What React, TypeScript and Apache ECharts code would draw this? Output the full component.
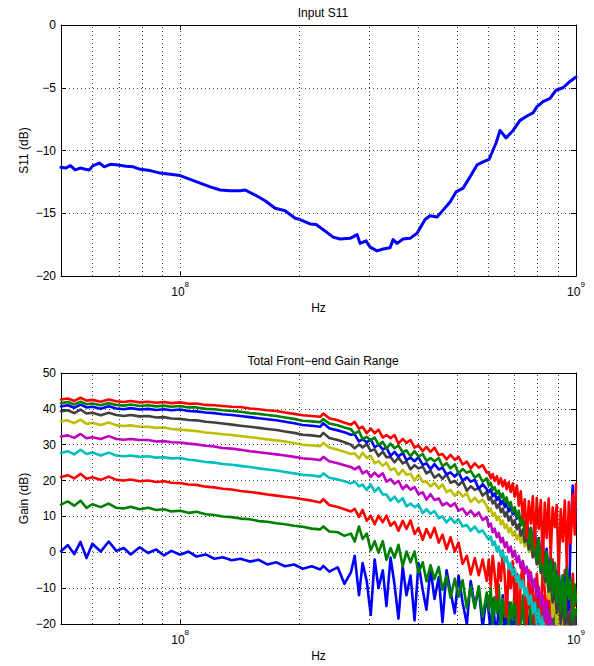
import React, { useEffect, useRef } from 'react';
import * as echarts from 'echarts';

const FONT = '"Liberation Sans", Arial, Helvetica, sans-serif';

// ---------- Input S11 (frequency in MHz, value in dB) ----------
const s11FreqMHz = [
  50, 51.5, 52.8, 54.3, 55.9, 57.6, 58.9, 60.3, 62.5, 64.3,
  66.6, 69.7, 73.0, 76.1, 79.3, 84.0, 89.0, 94.4, 100, 106,
  112.3, 119.1, 126.2, 133.8, 141.8, 145.9, 154.7, 163.9, 173.8, 184.1,
  195.2, 200.9, 212.9, 220.5, 229.6, 243.4, 253.5, 268.7, 279.9, 284.8,
  294.9, 301.8, 314.4, 325.6, 339.1, 345.1, 353.2, 365.7, 380.9, 396.7,
  415.6, 427.9, 445.7, 461.5, 480.7, 497.7, 518.4, 540.0, 562.3, 582.4,
  603.0, 628.1, 642.8, 665.7, 693.4, 722.2, 752.1, 778.8, 797.2, 825.5,
  859.8, 890.3, 927.3, 965.6, 1000,
];
const s11Db = [
  -11.34, -11.4, -11.2, -11.55, -11.4, -11.5, -11.55, -11.2, -11.0, -11.3,
  -11.1, -11.15, -11.25, -11.3, -11.5, -11.6, -11.8, -11.9, -12.0, -12.3,
  -12.6, -12.9, -13.15, -13.2, -13.2, -13.15, -13.55, -14.0, -14.6, -14.8,
  -15.4, -15.5, -15.85, -15.9, -16.3, -16.9, -17.05, -17.0, -16.7, -17.4,
  -17.2, -17.7, -18.0, -17.85, -17.75, -17.1, -17.4, -17.05, -17.0, -16.6,
  -15.5, -15.2, -15.3, -14.75, -14.1, -13.3, -13.0, -12.1, -11.15, -10.9,
  -10.7, -9.4, -8.4, -9.0, -8.4, -7.6, -7.25, -7.0, -6.5, -6.1,
  -5.85, -5.2, -5.0, -4.5, -4.15,
];

// ---------- Total Front-end Gain Range (frequency in MHz, gain in dB) ----------
const gainFreqMHz = [
  50, 52, 54, 56, 58, 60, 63, 66, 69, 72,
  75, 79, 83, 87, 91, 95, 100, 105, 110, 116,
  122, 128, 135, 142, 150, 158, 166, 175, 184, 194,
  204, 215, 226, 230, 238, 250, 260, 270,
  276, 283, 289, 296, 303, 310, 317, 325, 332, 340,
  348, 356, 365, 373, 382, 391, 400, 410, 419, 429,
  439, 450, 460, 471, 482, 494, 505, 517, 530, 542,
  555, 568, 581, 595,
  602, 609, 616, 623, 631, 638, 646, 653, 661, 668,
  676, 684, 692, 700, 709, 717, 725, 734, 742, 751,
  760, 769, 778, 787, 796, 805, 815, 824, 834, 843,
  853, 863, 873, 884, 894, 904, 915, 926, 937, 948,
  959, 970, 981, 993, 1000,
];

const gain1 = [
  0.3, 2.0, -0.5, 2.9, -1.6, 2.4, 0.2, 3.0, 0.4, 1.2,
  -0.6, 1.4, -0.2, 0.8, -0.9, 0.4, -0.7, 0.2, -1.2, -0.6,
  -1.8, -1.4, -2.2, -1.8, -2.6, -2.1, -3.4, -2.8, -3.9, -3.4,
  -4.6, -3.9, -4.8, -3.8, -5.4, -4.2, -8.8, -5.6,
  -1.0, -12.0, -3.0, -8.0, -17.5, -2.0, -10.0, -5.0, -15.0, -1.5,
  -9.0, -18.5, -4.0, -12.0, -6.5, -19.0, -3.0, -10.5, -16.0, -4.5,
  -13.0, -7.0, -19.5, -5.0, -11.0, -17.0, -6.5, -14.0, -20.0, -8.0,
  -15.0, -10.0, -21.0, -12.0,
  -17.0, -22.0, -13.0, -19.0, -22.0, -15.0, -20.0, -12.0, -22.0, -18.0,
  -14.0, -22.0, -16.0, -21.0, -13.0, -22.0, -19.0, -15.0, -22.0, -17.0,
  -22.0, -14.0, -20.0, -22.0, -16.0, -22.0, -18.0, -13.0, -22.0, -20.0,
  -15.0, -22.0, -17.0, -22.0, -12.0, -20.0, -22.0, -16.0, -22.0, -19.0,
  -14.0, -22.0, -18.0, -22.0, -20.0,
];
const gain2 = [
  13.3, 14.2, 13.0, 14.4, 12.4, 13.4, 12.6, 13.6, 12.4, 12.2,
  12.7, 12.0, 12.4, 11.8, 12.0, 11.4, 11.6, 11.0, 11.3, 10.6,
  10.4, 10.0, 9.8, 9.4, 9.2, 8.7, 8.5, 8.1, 7.8, 7.4,
  7.1, 6.6, 6.4, 7.2, 5.8, 5.6, 4.6, 5.2,
  3.0, 7.2, 3.7, 5.2, 0.6, 3.1, -0.1, 3.1, -2.1, 1.2,
  -1.5, 2.1, -3.9, 0.2, -2.8, 0.2, -5.8, -2.8, -8.1, -3.6,
  -7.5, -4.1, -10.5, -6.6, -12.7, -7.4, -12.4, -7.8, -15.6, -9.5,
  -15.6, -9.5, -18.0, -11.2,
  -16.0, -10.0, -20.0, -12.5, -17.0, -9.0, -22.0, -13.0, -18.0, -11.0,
  -22.0, -14.0, -19.0, -10.0, -22.0, -15.0, -20.0, -12.0, -22.0, -16.0,
  -11.0, -21.0, -14.0, -22.0, -12.0, -18.0, -22.0, -13.0, -20.0, -15.0,
  -22.0, -11.0, -19.0, -22.0, -14.0, -20.0, -9.0, -17.0, -22.0, -12.0,
  -19.0, -22.0, -13.0, -20.0, -16.0,
];
const gain3 = [
  21.0, 21.5, 20.6, 21.9, 20.5, 20.9, 20.2, 21.1, 20.2, 20.0,
  20.3, 19.8, 20.0, 19.6, 19.8, 19.4, 19.3, 18.9, 18.8, 18.3,
  18.1, 17.7, 17.5, 17.1, 16.8, 16.5, 16.1, 15.8, 15.5, 15.2,
  14.8, 14.4, 13.9, 14.8, 13.2, 12.6, 12.0, 11.4,
  12.1, 9.9, 11.8, 8.8, 10.2, 7.8, 10.2, 8.4, 10.2, 7.4,
  8.5, 6.0, 8.8, 6.5, 8.9, 5.1, 6.8, 3.5, 6.5, 4.1,
  6.8, 2.7, 4.9, 0.9, 4.2, 0.2, 2.7, -3.2, -1.0, -6.2,
  -1.6, -6.4, -2.0, -8.0,
  -2.0, -9.5, -1.0, -6.0, -13.0, -3.0, -8.0, 0.5, -7.0, -18.0,
  -4.0, -10.0, -2.5, -14.0, -6.0, -22.0, -8.0, -3.0, -12.0, -20.0,
  -5.0, -15.0, -9.0, -22.0, -6.0, -13.0, -19.0, -4.0, -11.0, -22.0,
  -8.0, -16.0, -2.0, -12.0, -21.0, -7.0, -14.0, -22.0, -5.0, -17.0,
  -10.0, -22.0, -6.0, -15.0, -11.0,
];
const gain4 = [
  27.7, 28.2, 27.3, 28.6, 27.4, 27.8, 27.0, 27.8, 27.0, 26.8,
  27.0, 26.6, 26.8, 26.4, 26.5, 26.2, 26.3, 25.8, 25.6, 25.2,
  25.0, 24.6, 24.4, 24.1, 23.8, 23.4, 23.1, 22.8, 22.4, 22.0,
  21.6, 21.4, 21.1, 22.0, 20.8, 20.3, 19.8, 19.2,
  19.7, 18.4, 18.9, 17.4, 18.9, 16.9, 18.0, 16.1, 16.1, 14.4,
  15.5, 14.0, 15.1, 12.8, 13.6, 12.6, 13.3, 10.9, 12.0, 10.8,
  11.5, 9.5, 10.0, 8.3, 9.6, 8.2, 9.2, 7.2, 7.6, 6.0,
  7.2, 5.6, 6.1, 4.3,
  3.6, 4.4, 2.0, 3.0, 0.4, 1.6, -1.2, 0.2, -2.8, -1.2,
  -4.6, -3.0, -6.4, -4.6, -8.2, -6.4, -10.0, -8.0, -12.0, -10.0,
  -14.5, -12.0, -17.0, -14.0, -20.0, -16.0, -22.0, -18.0, -22.0, -22.0,
  -19.0, -22.0, -22.0, -22.0, -22.0, -22.0, -22.0, -22.0, -22.0, -22.0,
  -22.0, -22.0, -22.0, -22.0, -22.0,
];
const gain5 = [
  32.3, 32.6, 31.9, 33.0, 31.8, 32.1, 31.6, 32.4, 31.6, 31.4,
  31.6, 31.3, 31.3, 30.9, 31.0, 30.7, 30.6, 30.3, 30.1, 29.7,
  29.5, 29.1, 28.9, 28.6, 28.2, 27.9, 27.6, 27.3, 27.0, 26.6,
  26.2, 26.0, 25.7, 26.6, 25.4, 24.8, 24.3, 23.8,
  23.1, 23.9, 22.0, 22.7, 21.0, 22.2, 21.1, 22.0, 19.7, 20.4,
  19.1, 19.9, 17.6, 18.7, 17.5, 18.2, 16.2, 16.7, 14.7, 16.2,
  14.6, 15.0, 13.1, 13.8, 12.8, 13.7, 11.6, 12.2, 10.5, 11.6,
  10.1, 11.1, 9.0, 9.8,
  7.2, 8.0, 5.6, 6.6, 4.2, 5.4, 2.8, 4.0, 1.4, 2.8,
  0.0, 1.6, -1.4, 0.4, -2.8, -1.0, -4.4, -2.4, -6.0, -4.0,
  -8.0, -5.6, -10.0, -7.4, -12.5, -9.6, -15.0, -12.0, -19.0, -14.0,
  -22.0, -17.0, -22.0, -22.0, -19.0, -22.0, -22.0, -22.0, -22.0, -22.0,
  -16.0, -22.0, -22.0, -22.0, -22.0,
];
const gain6 = [
  36.5, 36.8, 36.0, 37.0, 35.8, 36.1, 35.5, 36.2, 35.4, 35.2,
  35.4, 35.0, 35.0, 34.7, 34.8, 34.4, 34.2, 34.0, 33.8, 33.4,
  33.2, 32.9, 32.7, 32.4, 32.1, 31.8, 31.5, 31.2, 30.9, 30.5,
  30.0, 29.8, 29.6, 30.5, 29.2, 28.6, 28.0, 27.4,
  27.6, 26.2, 27.8, 26.3, 26.9, 24.8, 25.4, 24.1, 25.0, 22.9,
  23.4, 21.6, 23.0, 21.6, 21.9, 20.0, 21.6, 19.6, 19.7, 18.4,
  19.4, 17.8, 18.9, 16.8, 17.4, 15.7, 16.9, 15.6, 16.4, 14.0,
  15.2, 13.9, 14.7, 12.9,
  11.4, 12.2, 10.2, 11.0, 9.0, 10.0, 7.8, 8.8, 6.8, 7.8,
  5.6, 6.8, 4.6, 5.8, 3.6, 5.0, 2.6, 4.2, 1.6, 3.2,
  0.2, 2.0, -1.4, 0.6, -3.0, -1.0, -5.4, -3.0, -8.6, -6.0,
  -13.0, -9.0, -18.0, -12.0, -22.0, -15.0, -22.0, -17.0, -22.0, -19.0,
  -22.0, -22.0, -18.0, -22.0, -22.0,
];
const gain7 = [
  39.3, 39.6, 38.8, 39.8, 38.7, 38.9, 38.2, 38.9, 38.3, 38.0,
  38.3, 37.9, 38.0, 37.6, 37.7, 37.3, 37.2, 36.9, 36.8, 36.4,
  36.2, 35.9, 35.6, 35.3, 35.0, 34.7, 34.4, 34.1, 33.7, 33.3,
  32.8, 32.6, 32.3, 33.3, 31.9, 31.3, 30.7, 30.0,
  29.0, 30.1, 29.2, 30.2, 28.3, 28.7, 26.8, 28.1, 26.5, 26.6,
  25.1, 26.4, 24.8, 25.3, 23.1, 24.3, 23.4, 23.9, 22.0, 22.7,
  20.8, 21.7, 20.5, 21.7, 19.4, 19.9, 18.7, 19.8, 17.2, 18.4,
  17.4, 17.9, 15.8, 16.9,
  14.6, 15.4, 13.6, 14.4, 12.4, 13.4, 11.2, 12.2, 10.0, 11.2,
  8.8, 10.0, 7.6, 9.0, 6.4, 7.8, 4.6, 6.4, 2.8, 4.8,
  0.8, 3.0, -1.4, 1.2, -3.4, -0.8, -5.8, -2.6, -8.4, -5.0,
  -11.0, -7.4, -14.0, -9.6, -17.0, -11.5, -20.0, -13.0, -21.0, -15.5,
  -22.0, -17.0, -22.0, -18.0, -22.0,
];
const gain8 = [
  40.7, 41.0, 40.3, 41.2, 40.4, 40.6, 40.0, 40.7, 40.1, 39.9,
  40.2, 39.8, 40.0, 39.7, 39.9, 39.6, 39.8, 39.4, 39.3, 39.0,
  38.8, 38.5, 38.3, 38.0, 37.7, 37.4, 37.1, 36.8, 36.4, 36.0,
  35.5, 35.3, 35.0, 36.0, 34.6, 34.0, 33.5, 32.8,
  32.9, 30.9, 31.6, 30.6, 31.5, 29.3, 30.0, 28.7, 29.2, 26.9,
  28.0, 26.7, 27.7, 25.7, 26.4, 25.4, 26.5, 24.4, 24.8, 23.2,
  24.6, 23.1, 23.6, 21.7, 22.3, 21.1, 22.3, 20.0, 20.9, 19.7,
  20.2, 17.7, 19.0, 17.6,
  16.8, 17.6, 15.6, 16.4, 14.6, 15.5, 13.4, 14.4, 12.6, 13.8,
  11.4, 12.6, 10.6, 11.8, 9.4, 10.8, 7.8, 9.6, 6.2, 8.2,
  4.4, 6.8, 2.6, 5.4, 0.8, 4.0, -1.6, 2.6, -4.2, 1.0,
  -6.0, -1.4, -12.0, -3.0, -8.5, -5.0, -14.0, -6.5, -10.0, -4.5,
  -16.0, 6.0, 18.6, 8.0, 12.0,
];
const gain9 = [
  41.6, 41.9, 41.2, 42.0, 41.3, 41.5, 41.0, 41.6, 41.1, 40.9,
  41.2, 40.8, 41.0, 40.7, 40.9, 40.6, 40.8, 40.4, 40.4, 40.0,
  39.9, 39.6, 39.4, 39.2, 38.8, 38.6, 38.3, 38.0, 37.6, 37.2,
  36.7, 36.5, 36.3, 37.2, 35.9, 35.4, 34.8, 34.3,
  33.1, 33.8, 31.6, 32.2, 31.2, 32.0, 30.0, 30.8, 28.9, 30.3,
  29.0, 29.8, 27.9, 28.4, 26.8, 28.2, 26.7, 27.4, 25.5, 26.3,
  25.4, 26.3, 24.0, 24.9, 23.4, 24.5, 22.0, 23.2, 22.2, 22.7,
  20.8, 21.7, 19.7, 20.6,
  18.6, 19.4, 17.4, 18.2, 16.3, 17.2, 15.2, 16.4, 14.0, 15.3,
  12.8, 14.0, 11.2, 12.6, 9.8, 11.6, 7.4, 10.2, 5.0, 8.4,
  2.6, 6.8, 0.4, 5.2, -2.0, 3.6, -4.5, 1.8, -7.0, 0.2,
  -9.5, -1.6, -12.0, -3.0, -14.0, -5.0, -16.5, -6.5, -18.0, -4.0,
  -13.0, -7.5, -19.0, -9.0, -14.0,
];
const gain10 = [
  42.6, 42.9, 42.2, 43.1, 42.3, 42.5, 42.0, 42.6, 42.1, 41.9,
  42.2, 41.8, 42.0, 41.7, 41.9, 41.6, 41.8, 41.4, 41.5, 41.1,
  41.0, 40.8, 40.6, 40.5, 40.1, 39.9, 39.6, 39.4, 39.0, 38.6,
  38.2, 38.0, 37.8, 38.7, 37.4, 36.8, 36.1, 35.6,
  36.4, 34.5, 35.0, 33.2, 34.5, 33.2, 34.2, 32.0, 32.7, 31.8,
  32.7, 30.3, 31.6, 30.5, 31.3, 29.2, 29.8, 28.2, 29.4, 28.0,
  29.2, 27.1, 27.4, 25.9, 27.2, 25.8, 26.6, 24.5, 25.3, 23.4,
  24.8, 23.6, 24.3, 22.2,
  22.4, 20.6, 21.8, 19.9, 21.2, 19.0, 20.6, 18.4, 20.1, 17.6,
  19.5, 16.8, 19.2, 15.5, 18.6, 13.0, 17.0, 9.5, 14.8, 4.0,
  14.2, 8.0, 15.6, 1.5, 15.2, 6.5, 14.6, -3.0, 13.8, 4.0,
  15.0, -1.5, 12.5, 7.0, 13.2, -6.0, 12.0, 3.0, 14.4, -4.0,
  14.0, 2.5, 16.2, 5.0, 19.0,
];

const gainCurves = [gain1, gain2, gain3, gain4, gain5, gain6, gain7, gain8, gain9, gain10];
const gainColors = [
  '#0000FF', '#008000', '#FF0000', '#00BFBF', '#BF00BF',
  '#BFBF00', '#404040', '#0000FF', '#008000', '#FF0000',
];

// vertical (log) grid positions, MHz
const gridFreqsMHz = [60, 70, 80, 90, 100, 200, 300, 400, 500, 600, 700, 800, 900];

const titles = ['Input S11', 'Total Front\u2212end Gain Range'];
const yNames = ['S11 (dB)', 'Gain (dB)'];
const yRanges = [
  { min: -20, max: 0, interval: 5 },
  { min: -20, max: 50, interval: 10 },
];

const MHZ = 1e6;
const minus = (v: number) => String(v).replace('-', '\u2212');
const isPow10 = (v: number) => {
  const l = Math.log10(v);
  return Math.abs(l - Math.round(l)) < 1e-6;
};

const GRID_LINE = { type: [1, 3] as any, color: '#444', width: 1 };
const AXIS_LINE = { show: true, onZero: false, lineStyle: { color: '#000', width: 1 } };

function buildXAxes(gridIndex: number) {
  const common: any = {
    type: 'log',
    logBase: 10,
    min: 50 * MHZ,
    max: 1000 * MHZ,
    gridIndex,
    splitLine: { show: false },
    axisLine: AXIS_LINE,
    axisTick: { show: true, inside: true, length: 5, lineStyle: { color: '#000' } },
  };
  return [
    {
      ...common,
      position: 'bottom',
      name: 'Hz',
      nameLocation: 'middle',
      nameGap: 26,
      nameMoveOverlap: false,
      nameTextStyle: { fontFamily: FONT, fontSize: 12, color: '#000' },
      axisLabel: {
        show: true,
        margin: 4,
        formatter: (v: number) => (isPow10(v) ? `{b|10}{s|${Math.round(Math.log10(v))}}` : ''),
        rich: {
          b: { fontFamily: FONT, fontSize: 12, color: '#000', lineHeight: 18, verticalAlign: 'bottom' },
          s: { fontFamily: FONT, fontSize: 8, color: '#000', lineHeight: 18, verticalAlign: 'top' },
        },
      },
    },
    { ...common, position: 'top', axisLabel: { show: false } },
  ];
}

function buildYAxes(gridIndex: number) {
  const r = yRanges[gridIndex];
  const common: any = {
    type: 'value',
    min: r.min,
    max: r.max,
    interval: r.interval,
    gridIndex,
    axisLine: AXIS_LINE,
    axisTick: { show: true, inside: true, length: 5, lineStyle: { color: '#000' } },
  };
  return [
    {
      ...common,
      position: 'left',
      name: yNames[gridIndex],
      nameLocation: 'middle',
      nameGap: 31,
      nameMoveOverlap: false,
      nameTextStyle: { fontFamily: FONT, fontSize: 12, color: '#000' },
      axisLabel: { margin: 5, fontFamily: FONT, fontSize: 12, color: '#000', formatter: minus },
      splitLine: { show: true, lineStyle: GRID_LINE },
    },
    { ...common, position: 'right', axisLabel: { show: false }, splitLine: { show: false } },
  ];
}

function gridHelper(axisIndex: number) {
  return {
    type: 'line',
    xAxisIndex: axisIndex,
    yAxisIndex: axisIndex,
    data: [],
    silent: true,
    z: 1,
    markLine: {
      silent: true,
      symbol: ['none', 'none'],
      label: { show: false },
      lineStyle: GRID_LINE,
      emphasis: { disabled: true },
      animation: false,
      data: gridFreqsMHz.map((f) => ({ xAxis: f * MHZ })),
    },
  };
}

const lineBase = {
  type: 'line',
  showSymbol: false,
  symbol: 'none',
  clip: true,
  silent: true,
  z: 3,
  emphasis: { disabled: true },
};

const option: any = {
  animation: false,
  backgroundColor: '#fff',
  title: titles.map((t, i) => ({
    text: t,
    left: 318,
    top: i === 0 ? 2 : 350,
    textAlign: 'center',
    textStyle: { fontFamily: FONT, fontSize: 12, fontWeight: 'normal', color: '#000' },
  })),
  grid: [
    { left: 61, top: 25, width: 515, height: 251, outerBoundsMode: 'none', containLabel: false },
    { left: 61, top: 373, width: 515, height: 251, outerBoundsMode: 'none', containLabel: false },
  ],
  xAxis: [...buildXAxes(0), ...buildXAxes(1)],
  yAxis: [...buildYAxes(0), ...buildYAxes(1)],
  series: [
    gridHelper(0),
    gridHelper(2),
    {
      ...lineBase,
      name: 'S11',
      xAxisIndex: 0,
      yAxisIndex: 0,
      data: s11FreqMHz.map((f, i) => [f * MHZ, s11Db[i]]),
      lineStyle: { color: '#0000FF', width: 3, join: 'round', cap: 'round' },
    },
    ...gainCurves.map((vals, k) => ({
      ...lineBase,
      name: `gain${k + 1}`,
      xAxisIndex: 2,
      yAxisIndex: 2,
      data: gainFreqMHz.map((f, i) => [f * MHZ, vals[i]]),
      lineStyle: { color: gainColors[k], width: 2.6, join: 'round', cap: 'round' },
    })),
  ],
};

export default function App() {
  const ref = useRef<HTMLDivElement>(null);
  useEffect(() => {
    if (!ref.current) return;
    const chart = echarts.init(ref.current, null, { renderer: 'svg' });
    chart.setOption(option);
    return () => chart.dispose();
  }, []);
  return (
    <div
      ref={ref}
      style={{ position: 'absolute', left: 0, top: 0, width: 594, height: 666, background: '#fff' }}
    />
  );
}
